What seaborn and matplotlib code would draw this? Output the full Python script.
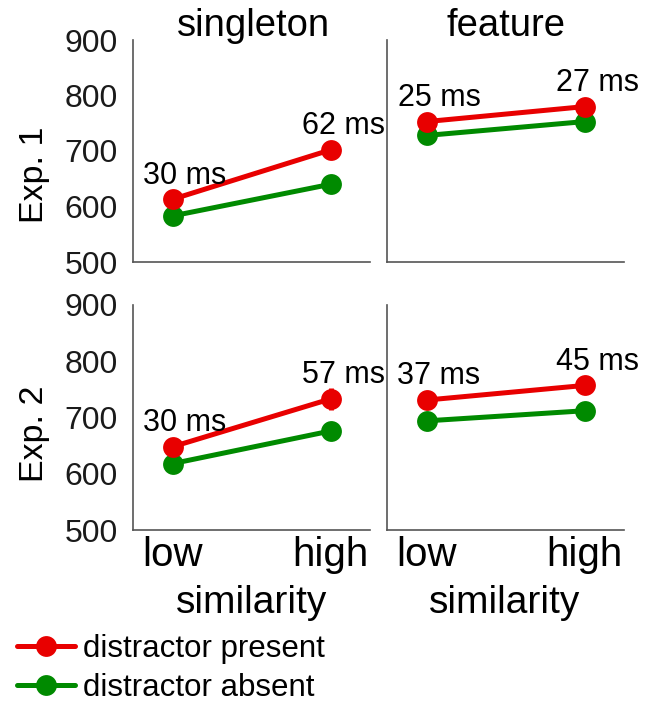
import numpy as np
import pandas as pd
import matplotlib
matplotlib.use("Agg")
import matplotlib.pyplot as plt
import seaborn as sns
from matplotlib.lines import Line2D

# ---------------- data ----------------
levels = ["low", "high"]
conditions = ["distractor present", "distractor absent"]
experiments = ["Exp. 1", "Exp. 2"]
tasks = ["singleton", "feature"]

exp1_singleton_present = [613, 702]
exp1_singleton_absent = [583, 640]
exp1_feature_present = [753, 780]
exp1_feature_absent = [728, 753]
exp2_singleton_present = [648, 733]
exp2_singleton_absent = [618, 676]
exp2_feature_present = [731, 757]
exp2_feature_absent = [694, 712]

exp1_singleton_present_err = [6, 6]
exp1_singleton_absent_err = [5, 5]
exp1_feature_present_err = [6, 6]
exp1_feature_absent_err = [5, 5]
exp2_singleton_present_err = [9, 20]
exp2_singleton_absent_err = [7, 10]
exp2_feature_present_err = [12, 14]
exp2_feature_absent_err = [12, 12]

exp1_singleton_labels = ["30 ms", "62 ms"]
exp1_feature_labels = ["25 ms", "27 ms"]
exp2_singleton_labels = ["30 ms", "57 ms"]
exp2_feature_labels = ["37 ms", "45 ms"]

yticks = [500, 600, 700, 800, 900]

panels = {
    (0, 0): (exp1_singleton_present, exp1_singleton_absent, exp1_singleton_present_err, exp1_singleton_absent_err, exp1_singleton_labels),
    (0, 1): (exp1_feature_present, exp1_feature_absent, exp1_feature_present_err, exp1_feature_absent_err, exp1_feature_labels),
    (1, 0): (exp2_singleton_present, exp2_singleton_absent, exp2_singleton_present_err, exp2_singleton_absent_err, exp2_singleton_labels),
    (1, 1): (exp2_feature_present, exp2_feature_absent, exp2_feature_present_err, exp2_feature_absent_err, exp2_feature_labels),
}

RED = "#e80000"
GREEN = "#008a00"
palette = {conditions[0]: RED, conditions[1]: GREEN}

# ---------------- figure ----------------
sns.set_theme(style="white")
plt.rcParams["font.family"] = ["Liberation Sans", "DejaVu Sans"]

W, H = 652, 703
fig = plt.figure(figsize=(W / 100, H / 100), dpi=100)

def fx(x):
    return x / W

def fy(y):
    return 1 - y / H

# axes rectangles in pixel coords (left, right, top(900), bottom(500))
rects = {
    (0, 0): (133, 370, 40, 262),
    (0, 1): (387, 624, 40, 262),
    (1, 0): (133, 370, 305, 530),
    (1, 1): (387, 624, 305, 530),
}

SPINE = "#555555"
TXT = "#1a1a1a"

for (r, c), (pres, absn, perr, aerr, labs) in panels.items():
    l, rr, t, b = rects[(r, c)]
    ax = fig.add_axes([fx(l), fy(b), fx(rr - l), (b - t) / H])
    df = pd.DataFrame({
        "x": list(range(len(levels))) * 2,
        "rt": list(pres) + list(absn),
        "condition": [conditions[0]] * len(levels) + [conditions[1]] * len(levels),
    })
    # error bars
    ax.errorbar(range(len(levels)), pres, yerr=perr, fmt="none", ecolor=RED, elinewidth=3.5, capsize=0, zorder=1)
    ax.errorbar(range(len(levels)), absn, yerr=aerr, fmt="none", ecolor=GREEN, elinewidth=3.5, capsize=0, zorder=1)
    sns.lineplot(data=df, x="x", y="rt", hue="condition", hue_order=conditions[::-1],
                 palette=palette, marker="o", markersize=15, markeredgewidth=0,
                 linewidth=3.6, legend=False, ax=ax, zorder=3)
    ax.set_xlim(-0.25, 1.25)
    ax.set_ylim(500, 900)
    ax.set_xticks(range(len(levels)))
    ax.set_yticks(yticks)
    ax.set_xlabel("")
    ax.set_ylabel("")
    for s in ["top", "right"]:
        ax.spines[s].set_visible(False)
    for s in ["left", "bottom"]:
        ax.spines[s].set_color(SPINE)
        ax.spines[s].set_linewidth(1.2)
    ax.tick_params(axis="both", direction="in", length=3, width=1, colors=SPINE)
    if c == 0:
        ax.set_yticklabels([str(v) for v in yticks], fontsize=23, color=TXT)
        ax.tick_params(axis="y", pad=11)
    else:
        ax.set_yticklabels([])
    if r == 1:
        ax.set_xticklabels(levels, fontsize=29, color="black")
        ax.tick_params(axis="x", pad=4)
    else:
        ax.set_xticklabels([])
    # annotations above red points
    for i, txt in enumerate(labs):
        ax.annotate(txt, xy=(i, pres[i]), xytext=(9, 17), textcoords="offset points",
                    ha="center", va="center", fontsize=22, color="black", zorder=5)

# column titles
fig.text(fx(253), fy(26), tasks[0], ha="center", va="center", fontsize=27.5, color="black")
fig.text(fx(506), fy(26), tasks[1], ha="center", va="center", fontsize=27.5, color="black")
# row labels
fig.text(fx(34), fy(175), experiments[0], ha="center", va="center", rotation=90, fontsize=24.5, color="black")
fig.text(fx(34), fy(434), experiments[1], ha="center", va="center", rotation=90, fontsize=24.5, color="black")
# x labels
fig.text(fx(252), fy(603), "similarity", ha="center", va="center", fontsize=28, color="black")
fig.text(fx(505), fy(603), "similarity", ha="center", va="center", fontsize=28, color="black")

# legend
handles = [Line2D([0], [0], color=palette[cnd], lw=3.6, marker="o", markersize=15, markeredgewidth=0)
           for cnd in conditions]
fig.legend(handles, conditions, loc="upper left", bbox_to_anchor=(fx(17), fy(634)),
           frameon=False, fontsize=22.5, handlelength=1.85, handletextpad=0.25,
           labelspacing=0.3, borderaxespad=0, borderpad=0, labelcolor="black")

fig.savefig("out.png", dpi=100)
